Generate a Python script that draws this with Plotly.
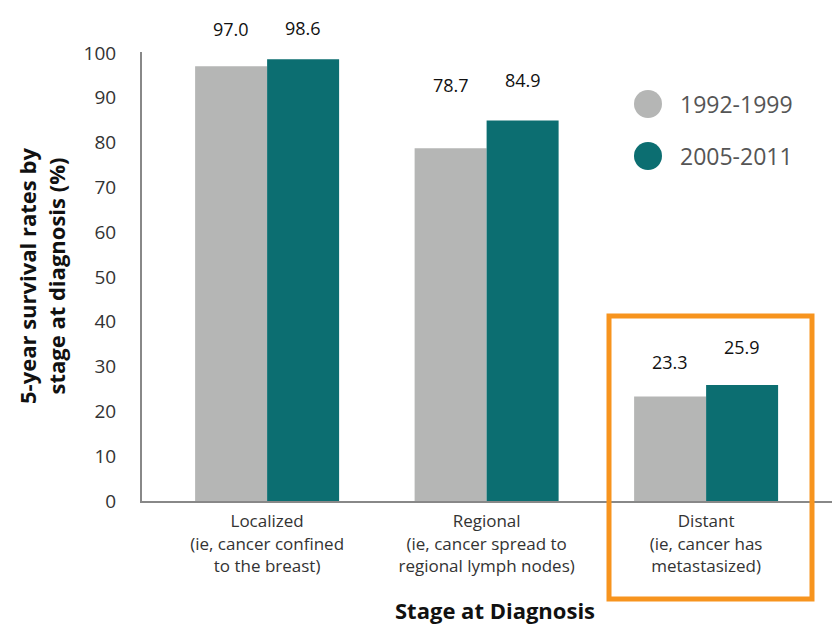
import plotly.graph_objects as go

categories = ["Localized", "Regional", "Distant"]
category_labels = [
    "Localized<br>(ie, cancer confined<br>to the breast)",
    "Regional<br>(ie, cancer spread to<br>regional lymph nodes)",
    "Distant<br>(ie, cancer has<br>metastasized)",
]
series_names = ["1992-1999", "2005-2011"]
rates_1992_1999 = [97.0, 78.7, 23.3]
rates_2005_2011 = [98.6, 84.9, 25.9]
y_ticks = [0, 10, 20, 30, 40, 50, 60, 70, 80, 90, 100]

GRAY = "#B5B6B5"
TEAL = "#0C6E71"
ORANGE = "#F7941E"
FONT = "Open Sans, Noto Sans, sans-serif"

fig = go.Figure()
for name, vals, col in [(series_names[0], rates_1992_1999, GRAY),
                        (series_names[1], rates_2005_2011, TEAL)]:
    fig.add_trace(go.Bar(x=categories, y=vals, name=name, marker_color=col,
                         marker_line_width=0, showlegend=False))

# value labels
label_shift = [[37, 63, 35], [31, 41, 38]]
offsets = [-0.164, 0.164]
for si, vals in enumerate([rates_1992_1999, rates_2005_2011]):
    for ci, v in enumerate(vals):
        fig.add_annotation(x=ci + offsets[si], y=v, xref="x", yref="y",
                           text=f"{v:.1f}", showarrow=False, yshift=label_shift[si][ci],
                           font=dict(family=FONT, size=18, color="#111"))

# page has an 8px body margin; work in screen coordinates
OFF = 8
W, H = 832, 616
L, R, T, B = 142 - OFF, 0, 52 - OFF, 616 - (501 - OFF)
pw, ph = W - L - R, H - T - B

def px(x):
    return (x - OFF - L) / pw

def py(y):
    return (H - B - (y - OFF)) / ph

# highlight box
fig.add_shape(type="rect", xref="paper", yref="paper",
              x0=px(609), x1=px(812), y0=py(599), y1=py(316),
              line=dict(color=ORANGE, width=5), layer="above")

# custom legend (circles)
for i, (name, col) in enumerate(zip(series_names, [GRAY, TEAL])):
    cy = 104 + 52 * i
    fig.add_shape(type="circle", xref="paper", yref="paper",
                  x0=px(634), x1=px(662), y0=py(cy + 14), y1=py(cy - 14),
                  fillcolor=col, line=dict(width=0))
    fig.add_annotation(xref="paper", yref="paper", x=px(678), y=py(cy),
                       xanchor="left", yanchor="middle", text=name, showarrow=False,
                       font=dict(family=FONT, size=23, color="#555"))

# axis titles
fig.add_annotation(xref="paper", yref="paper", x=px(41), y=py(276),
                   xanchor="center", yanchor="middle",
                   text="<b>5-year survival rates by<br>stage at diagnosis (%)</b>",
                   textangle=-90, showarrow=False,
                   font=dict(family=FONT, size=22, color="#111"))
fig.add_annotation(xref="paper", yref="paper", x=px(495), y=py(610),
                   xanchor="center", yanchor="middle",
                   text="<b>Stage at Diagnosis</b>", showarrow=False,
                   font=dict(family=FONT, size=22, color="#111"))

fig.update_layout(
    width=W, height=H,
    margin=dict(l=L, r=R, t=T, b=B),
    paper_bgcolor="white", plot_bgcolor="white",
    barmode="group", bargap=0.344, bargroupgap=0,
    font=dict(family=FONT),
    xaxis=dict(type="category", range=[-0.57, 2.61], tickmode="array",
               tickvals=categories, ticktext=category_labels,
               showline=True, linecolor="#888", linewidth=2, ticks="",
               showgrid=False, zeroline=False, ticklabelstandoff=4,
               tickfont=dict(family=FONT, size=17, color="#333")),
    yaxis=dict(range=[0, 100.2], tickvals=y_ticks, showline=True,
               linecolor="#888", linewidth=2, ticks="", showgrid=False,
               zeroline=False, ticklabelstandoff=20,
               tickfont=dict(family=FONT, size=19, color="#333")),
)

fig.write_html("out.html")
